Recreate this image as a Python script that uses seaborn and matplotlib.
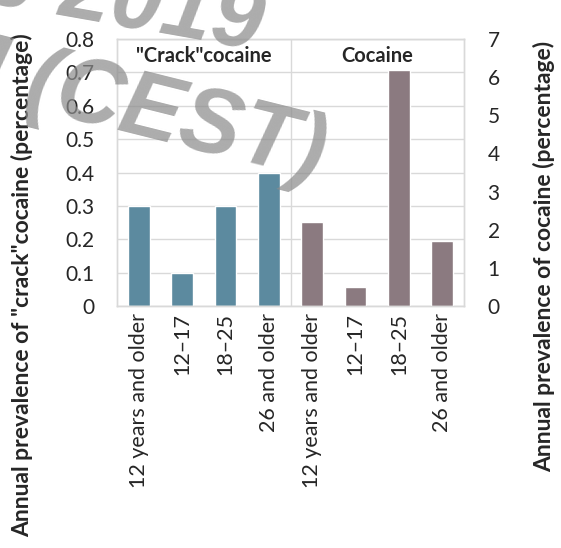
import matplotlib
matplotlib.use("Agg")
import matplotlib.pyplot as plt
import seaborn as sns
import pandas as pd

# ---- data ----
age_groups = ["12 years and older", "12\u201317", "18\u201325", "26 and older"]
crack_values = [0.3, 0.1, 0.3, 0.4]          # left axis, percentage
cocaine_values = [2.2, 0.5, 6.2, 1.7]        # right axis, percentage
group_titles = ['"Crack"cocaine', "Cocaine"]
left_ticks = [0, 0.1, 0.2, 0.3, 0.4, 0.5, 0.6, 0.7, 0.8]
left_ticklabels = ["0", "0.1", "0.2", "0.3", "0.4", "0.5", "0.6", "0.7", "0.8"]
right_ticks = [0, 1, 2, 3, 4, 5, 6, 7]
left_label = 'Annual prevalence of "crack"cocaine (percentage)'
right_label = "Annual prevalence of cocaine (percentage)"

crack_color = "#5c8a9f"
cocaine_color = "#8b7a80"

sns.set_style("white")
plt.rcParams["font.family"] = ["Lato", "DejaVu Sans"]

slots_crack = ["crack|" + a for a in age_groups]
slots_coc = ["coc|" + a for a in age_groups]
order = slots_crack + slots_coc

df_crack = pd.DataFrame({"slot": slots_crack, "value": crack_values})
df_coc = pd.DataFrame({"slot": slots_coc, "value": cocaine_values})

fig = plt.figure(figsize=(5.61, 5.48), dpi=100)
ax = fig.add_axes([0.2086, 0.4416, 0.6185, 0.4872])
ax2 = ax.twinx()

sns.barplot(data=df_crack, x="slot", y="value", order=order, color=crack_color,
            width=0.5, errorbar=None, saturation=1, ax=ax)
sns.barplot(data=df_coc, x="slot", y="value", order=order, color=cocaine_color,
            width=0.5, errorbar=None, saturation=1, ax=ax2)

ax.set_ylim(0, 0.8)
ax2.set_ylim(0, 7)
ax.set_xlim(-0.5, 7.5)

grid_c = "#d9d9d9"
ax.set_yticks(left_ticks)
ax.set_yticklabels(left_ticklabels)
ax.yaxis.grid(True, color=grid_c, linewidth=1)
ax.set_axisbelow(True)
ax2.set_yticks(right_ticks)
ax2.set_yticklabels([str(t) for t in right_ticks])
ax2.grid(False)

ax.set_xticks(range(len(order)))
ax.set_xticklabels(age_groups + age_groups, rotation=90, fontsize=15.5)
ax.tick_params(axis="x", length=0, pad=5)
ax.tick_params(axis="y", length=0, pad=16, labelsize=15)
ax2.tick_params(axis="y", length=0, pad=17, labelsize=15)

for a in (ax, ax2):
    for s in a.spines.values():
        s.set_color(grid_c)
        s.set_linewidth(1)

# separator and group headers
ax.axvline(3.5, color=grid_c, linewidth=1, zorder=0.5)
ax.text(1.5, 0.75, group_titles[0], ha="center", va="center",
        fontsize=14.5, fontweight="bold")
ax.text(5.5, 0.75, group_titles[1], ha="center", va="center",
        fontsize=14.5, fontweight="bold")

ax.set_xlabel("")
ax2.set_xlabel("")
ax.set_ylabel(left_label, fontsize=16.5, fontweight="bold")
ax.yaxis.set_label_coords(-0.243, 0.078)
ax2.set_ylabel(right_label, fontsize=16.5, fontweight="bold", rotation=90)
ax2.yaxis.set_label_coords(1.198, 0.187)

# watermark
wm = dict(fontsize=66, fontweight="bold", style="italic", color="#8c8c8c",
          alpha=0.72, rotation_mode="anchor",
          family=["Liberation Sans", "DejaVu Sans"], zorder=10)
fig.text(258 / 561, 1 - 50 / 548, "June 2019", ha="right", va="baseline",
         rotation=-10, **wm)
fig.text(318 / 561, 1 - 180 / 548, "PM (CEST)", ha="right", va="baseline",
         rotation=-14, **wm)

fig.savefig("out.png", dpi=100)
